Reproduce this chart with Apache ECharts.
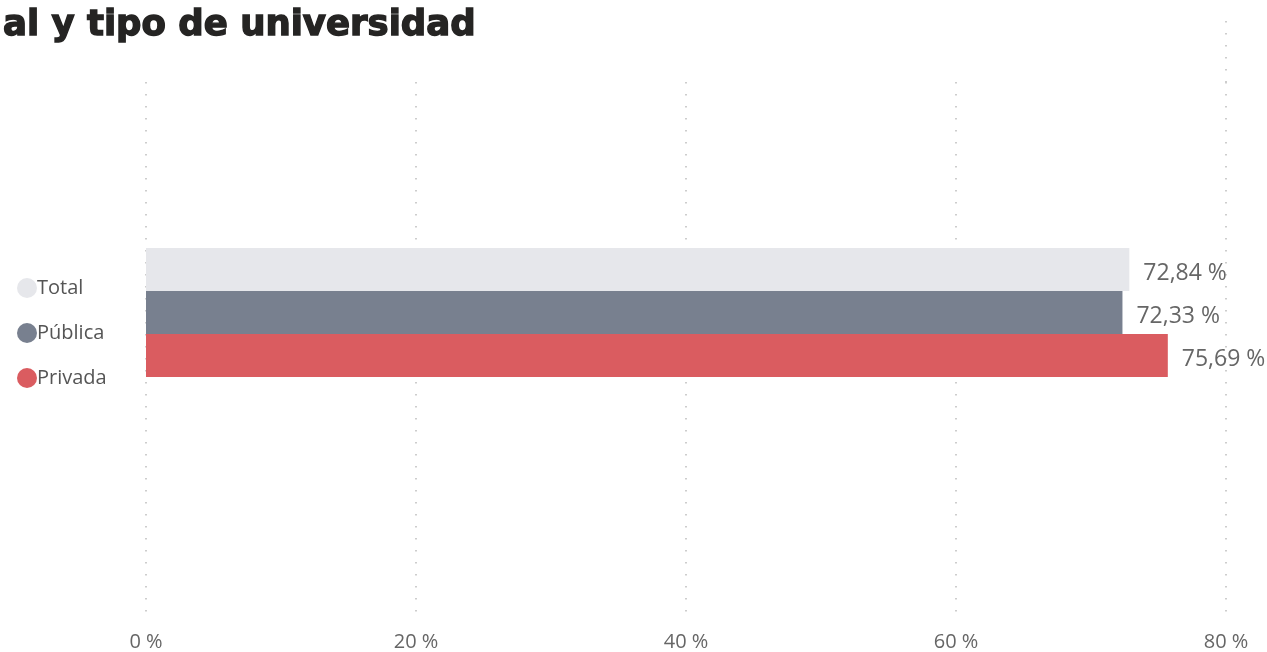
<!DOCTYPE html>
<html>
<head>
<meta charset="utf-8">
<script src="https://cdn.jsdelivr.net/npm/echarts@6/dist/echarts.min.js"></script>
<style>
  html, body { margin: 0; padding: 0; background: #fff; }
  #chart { width: 1267px; height: 652px; }
</style>
</head>
<body>
<div id="chart"></div>
<script>
var categories = ['Total']
var seriesNames = ['Total', 'Pública', 'Privada']
var seriesValues = [72.84, 72.33, 75.69]
var seriesColors = ['#E6E7EB', '#78808F', '#DA5C60']
var xTicks = [0, 20, 40, 60, 80]

var chart = echarts.init(document.getElementById('chart'));

function pct(v) {
    return v.toFixed(2).replace('.', ',') + ' %'
}

var fontFam = '"Open Sans", "Noto Sans", sans-serif'
var series = []
for (let i = 0; i < seriesNames.length; i++) {
    series.push({
        name: seriesNames[i],
        type: 'bar',
        xAxisIndex: 2,
        yAxisIndex: 2,
        data: [seriesValues[i]],
        barWidth: 43,
        barGap: 0,
        itemStyle: { color: seriesColors[i] },
        label: {
            show: true,
            position: 'right',
            distance: 14,
            offset: [0, 4],
            fontFamily: fontFam,
            fontSize: 23,
            color: '#666666',
            formatter: function (p) { return pct(p.value) }
        }
    })
}

var dotted = { type: [1.5, 10.5], color: '#bdbdbd', width: 1.5 }
var option = {
    animation: false,
    title: {
        text: 'al y tipo de universidad',
        left: -2,
        top: 3,
        textStyle: {
            fontFamily: '"DejaVu Sans", sans-serif',
            fontWeight: 'bold',
            fontSize: 35.5,
            color: '#252423',
            textBorderColor: '#252423',
            textBorderWidth: 1.4
        }
    },
    legend: {
        orient: 'vertical',
        left: 12,
        top: 273,
        icon: 'circle',
        itemWidth: 20,
        itemHeight: 20,
        itemGap: 25,
        textStyle: { fontFamily: fontFam, fontSize: 20, color: '#555555', padding: [0, 0, 0, -5] },
        data: seriesNames
    },
    grid: [
        // gridlines + tick labels
        { left: 146, right: 41, top: 82, bottom: 30 },
        // upper part of the 80 % line
        { left: 146, right: 41, top: 21, height: 61 },
        // bars
        { left: 146, right: 41, top: 82, height: 461 }
    ],
    xAxis: [
        {
            gridIndex: 0, type: 'value', min: xTicks[0], max: xTicks[xTicks.length - 1], interval: 20,
            axisLine: { show: false }, axisTick: { show: false },
            axisLabel: { fontFamily: fontFam, fontSize: 20, color: '#666666', margin: 10, formatter: '{value} %' },
            splitLine: { show: true, lineStyle: dotted }
        },
        {
            gridIndex: 1, type: 'value', min: 0, max: 80, interval: 80,
            axisLine: { show: false }, axisTick: { show: false }, axisLabel: { show: false },
            splitLine: { show: true, showMinLine: false, lineStyle: dotted }
        },
        {
            gridIndex: 2, type: 'value', min: 0, max: 80, show: false
        }
    ],
    yAxis: [
        { gridIndex: 0, type: 'value', min: 0, max: 1, show: false, splitLine: { show: false } },
        { gridIndex: 1, type: 'value', min: 0, max: 1, show: false, splitLine: { show: false } },
        { gridIndex: 2, type: 'category', data: categories, show: false }
    ],
    series: series
};
chart.setOption(option);
</script>
</body>
</html>
